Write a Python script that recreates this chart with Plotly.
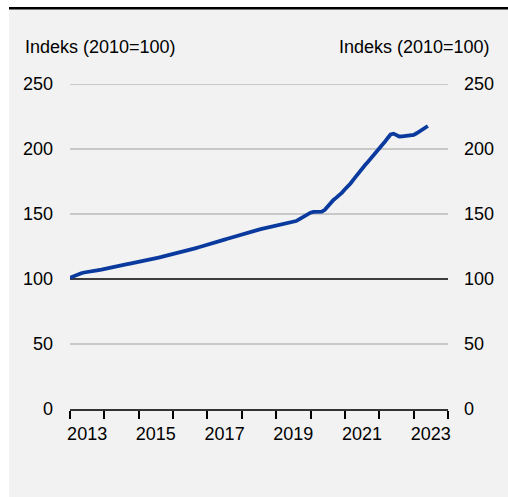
import plotly.graph_objects as go

# Monthly index values, Jan 2013 - Jun 2023 (2010 = 100)
years = list(range(2013, 2024))
index_2013 = [101.0, 102.0, 102.9, 103.7, 104.4, 105.0, 105.5, 105.9, 106.3, 106.6, 106.9, 107.2]
index_2014 = [107.6, 108.0, 108.5, 109.0, 109.4, 109.9, 110.4, 110.9, 111.4, 111.9, 112.3, 112.7]
index_2015 = [113.1, 113.6, 114.0, 114.5, 115.0, 115.5, 116.0, 116.5, 117.0, 117.5, 118.0, 118.5]
index_2016 = [119.0, 119.6, 120.2, 120.8, 121.4, 122.0, 122.6, 123.2, 123.8, 124.4, 125.0, 125.5]
index_2017 = [126.1, 126.8, 127.5, 128.2, 128.9, 129.6, 130.3, 131.0, 131.7, 132.4, 133.1, 133.8]
index_2018 = [134.5, 135.2, 135.9, 136.5, 137.0, 137.5, 138.0, 138.5, 139.0, 139.5, 140.0, 140.5]
index_2019 = [141.0, 141.4, 141.8, 142.2, 142.6, 143.0, 143.5, 144.6, 145.9, 147.3, 148.7, 150.1]
index_2020 = [151.0, 151.6, 151.5, 151.4, 151.8, 153.2, 155.8, 158.5, 160.8, 162.6, 164.3, 166.5]
index_2021 = [169.0, 171.0, 173.5, 176.5, 179.5, 182.5, 185.0, 187.5, 190.0, 192.5, 195.0, 197.5]
index_2022 = [199.5, 202.5, 205.5, 208.5, 211.2, 211.8, 210.5, 209.6, 209.7, 209.9, 210.1, 210.4]
index_2023 = [210.9, 212.1, 213.6, 215.2, 216.6, 217.7]

yearly = [index_2013, index_2014, index_2015, index_2016, index_2017, index_2018,
          index_2019, index_2020, index_2021, index_2022, index_2023]

dates, values = [], []
for yr, vals in zip(years, yearly):
    for m, v in enumerate(vals, start=1):
        dates.append(f"{yr}-{m:02d}-01")
        values.append(v)

y_ticks = [0, 50, 100, 150, 200, 250]
x_label_years = [2013, 2015, 2017, 2019, 2021, 2023]
axis_title = "Indeks (2010=100)"
base_level = 100

LINE_BLUE = "#0a3a9e"
BG = "#f2f2f2"
GRID = "#9e9e9e"
FONT = dict(family="Liberation Sans, Arial, sans-serif", size=18, color="#000000")

W, H = 508, 497
ML, MR, MT, MB = 70, 60, 84, 88
PW, PH = W - ML - MR, H - MT - MB


def px_x(x):
    return (x - ML) / PW


def px_y(y):
    return 1 - (y - MT) / PH


fig = go.Figure()
fig.add_trace(go.Scatter(x=dates, y=values, mode="lines",
                         line=dict(color=LINE_BLUE, width=3.8),
                         showlegend=False, hoverinfo="x+y"))
# same series on the right-hand axis so it renders with identical scale
fig.add_trace(go.Scatter(x=dates, y=values, mode="lines", yaxis="y2",
                         line=dict(color="rgba(0,0,0,0)", width=0),
                         showlegend=False, hoverinfo="skip"))

shapes = [
    # white edge strips and black top rule around the grey panel
    dict(type="rect", xref="paper", yref="paper", x0=px_x(0), x1=px_x(9),
         y0=px_y(H), y1=px_y(0), fillcolor="white", line_width=0, layer="below"),
    dict(type="rect", xref="paper", yref="paper", x0=px_x(0), x1=px_x(W),
         y0=px_y(7), y1=px_y(0), fillcolor="white", line_width=0, layer="below"),
    dict(type="rect", xref="paper", yref="paper", x0=px_x(9), x1=px_x(W),
         y0=px_y(9.5), y1=px_y(7), fillcolor="black", line_width=0, layer="below"),
]
# horizontal gridlines; the base level is drawn in black
for t in y_ticks[1:]:
    is_base = t == base_level
    shapes.append(dict(type="line", xref="paper", yref="y", x0=0, x1=1, y0=t, y1=t,
                       line=dict(color="black" if is_base else GRID,
                                 width=1.4 if is_base else 1),
                       layer="below"))

annotations = [
    dict(text=axis_title, xref="paper", yref="paper", x=px_x(23), y=px_y(47),
         xanchor="left", yanchor="middle", showarrow=False, font=FONT),
    dict(text=axis_title, xref="paper", yref="paper", x=px_x(492), y=px_y(47),
         xanchor="right", yanchor="middle", showarrow=False, font=FONT),
]

fig.update_layout(
    width=W, height=H,
    margin=dict(l=ML, r=MR, t=MT, b=MB, pad=0),
    paper_bgcolor=BG, plot_bgcolor=BG,
    font=FONT,
    shapes=shapes,
    annotations=annotations,
    xaxis=dict(
        type="date", range=["2013-01-01", "2024-01-01"],
        tickmode="array",
        tickvals=[f"{y}-07-02" for y in x_label_years],
        ticktext=[str(y) for y in x_label_years],
        ticks="", showgrid=False, zeroline=False,
        showline=True, linecolor="#333333", linewidth=1.5,
        minor=dict(tickmode="linear", tick0="2013-01-01", dtick="M12",
                   ticks="outside", ticklen=8, tickwidth=2, tickcolor="black",
                   showgrid=False),
        ticklabelstandoff=8,
        automargin=False, fixedrange=True,
    ),
    yaxis=dict(
        range=[0, 250], tickmode="array", tickvals=y_ticks,
        ticks="", showgrid=False, zeroline=False, showline=False,
        ticklabelstandoff=16,
        automargin=False, fixedrange=True,
    ),
    yaxis2=dict(
        range=[0, 250], tickmode="array", tickvals=y_ticks,
        overlaying="y", side="right",
        ticks="", showgrid=False, zeroline=False, showline=False,
        ticklabelstandoff=15,
        automargin=False, fixedrange=True,
    ),
)

fig.write_html("out.html", config={"displayModeBar": False})
